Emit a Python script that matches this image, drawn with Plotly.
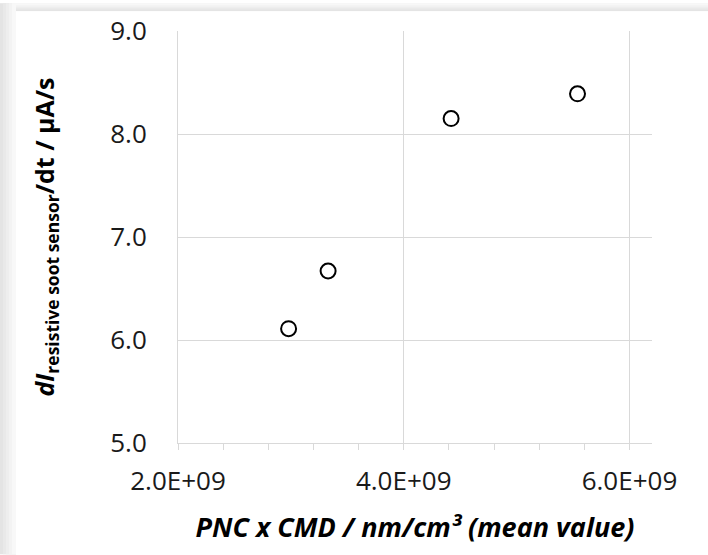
import plotly.graph_objects as go

# Data
pnc_cmd = [2.98e9, 3.33e9, 4.42e9, 5.54e9]
di_dt = [6.11, 6.67, 8.15, 8.39]

x_tick_vals = [2.0e9, 4.0e9, 6.0e9]
x_tick_text = ["2.0E+09", "4.0E+09", "6.0E+09"]
y_tick_vals = [5.0, 6.0, 7.0, 8.0, 9.0]
y_tick_text = ["5.0", "6.0", "7.0", "8.0", "9.0"]

W, H = 708, 555
L, R, T, B = 178, 56, 28, 112
PW, PH = W - L - R, H - T - B

def px_x(p):
    return (p - L) / PW

def px_y(p):
    return (H - B - p) / PH

fig = go.Figure()
fig.add_trace(go.Scatter(
    x=pnc_cmd, y=di_dt, mode="markers",
    marker=dict(symbol="circle-open", size=15, color="black",
                line=dict(color="black", width=2)),
    showlegend=False, cliponaxis=False, hoverinfo="skip",
))

grid = "#d9d9d9"
font_family = "Open Sans, Noto Sans, sans-serif"

# shadow-like frame on top and left
shapes = []
greys = ["#e4e4e4", "#e9e9e9", "#eeeeee", "#f3f3f3", "#f8f8f8"]
for i, g in enumerate(greys):
    shapes.append(dict(type="rect", xref="paper", yref="paper",
                       x0=px_x(0), x1=px_x(W), y0=px_y(0), y1=px_y(8 - i * 1.5),
                       fillcolor=g, line=dict(width=0), layer="below"))
for i, g in enumerate(greys):
    shapes.append(dict(type="rect", xref="paper", yref="paper",
                       x0=px_x(i * 3), x1=px_x(16), y0=px_y(0), y1=px_y(H),
                       fillcolor=g, line=dict(width=0), layer="below"))
# white card
shapes.append(dict(type="rect", xref="paper", yref="paper",
                   x0=px_x(16), x1=px_x(W), y0=px_y(8), y1=px_y(H),
                   fillcolor="white", line=dict(width=0), layer="below"))

fig.update_layout(
    width=W, height=H,
    margin=dict(l=L, r=R, t=T, b=B, pad=0),
    paper_bgcolor="white", plot_bgcolor="white",
    font=dict(family=font_family, color="#1a1a1a"),
    shapes=shapes,
    hovermode=False,
    xaxis=dict(
        range=[2.0e9, 6.2e9], tickvals=x_tick_vals, ticktext=x_tick_text,
        showgrid=True, gridcolor=grid, gridwidth=1,
        showline=True, linecolor=grid, linewidth=1,
        zeroline=False, ticks="outside", ticklen=6, tickcolor=grid,
        minor=dict(dtick=0.4e9, tick0=2.0e9, ticks="outside", ticklen=6,
                   tickcolor=grid, showgrid=False),
        tickfont=dict(size=26, color="#1a1a1a"),
        ticklabelstandoff=9,
        title=dict(text="<b><i>PNC x CMD / nm/cm³ (mean value)</i></b>",
                   font=dict(size=27, color="#000000"), standoff=20),
    ),
    yaxis=dict(
        range=[5.0, 9.0], tickvals=y_tick_vals, ticktext=y_tick_text,
        showgrid=True, gridcolor=grid, gridwidth=1,
        showline=True, linecolor=grid, linewidth=1,
        zeroline=False, ticks="",
        tickfont=dict(size=26, color="#1a1a1a"),
        ticklabelstandoff=25,
        title=dict(text="<b><i>dI</i><sub>resistive soot sensor</sub>/dt / µA/s</b>",
                   font=dict(size=25, color="#000000"), standoff=48),
    ),
)

fig.write_html("out.html", config={"displayModeBar": False},
               post_script="document.body.style.margin='0';document.body.style.overflow='hidden';")
